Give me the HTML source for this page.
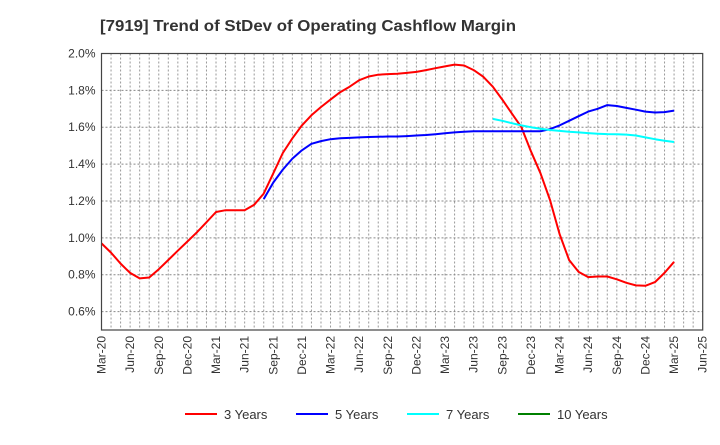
<!DOCTYPE html>
<html><head><meta charset="utf-8"><style>
body{margin:0;background:#fff;font-family:"Liberation Sans",sans-serif}
svg text{font-family:"Liberation Sans",sans-serif}
</style></head><body>
<svg id="c" width="720" height="440" xmlns="http://www.w3.org/2000/svg">
<text x="100" y="31" font-size="16" font-weight="bold" fill="#333" textLength="416" lengthAdjust="spacingAndGlyphs">[7919]  Trend of StDev of Operating Cashflow Margin</text>
<g id="grid"></g><g id="series"></g><g id="axes"></g><g id="legend"></g>
</svg>
<script>
const xLabels=["Mar-20","Jun-20","Sep-20","Dec-20","Mar-21","Jun-21","Sep-21","Dec-21","Mar-22","Jun-22","Sep-22","Dec-22","Mar-23","Jun-23","Sep-23","Dec-23","Mar-24","Jun-24","Sep-24","Dec-24","Mar-25","Jun-25"];
const yTicks=[0.6,0.8,1.0,1.2,1.4,1.6,1.8,2.0];
const red=[0.97,0.92,0.86,0.81,0.78,0.785,0.83,0.88,0.93,0.98,1.03,1.085,1.14,1.15,1.15,1.15,1.18,1.24,1.35,1.46,1.54,1.61,1.665,1.71,1.75,1.79,1.82,1.855,1.875,1.885,1.888,1.89,1.895,1.90,1.91,1.92,1.93,1.94,1.935,1.91,1.874,1.82,1.75,1.675,1.60,1.47,1.35,1.205,1.02,0.88,0.815,0.787,0.79,0.79,0.775,0.756,0.742,0.74,0.76,0.81,0.87];
const redStart=0;
const blue=[1.21,1.30,1.37,1.43,1.475,1.51,1.525,1.535,1.54,1.542,1.545,1.547,1.548,1.55,1.55,1.552,1.555,1.558,1.562,1.567,1.572,1.575,1.578,1.578,1.578,1.578,1.578,1.578,1.578,1.578,1.59,1.61,1.635,1.66,1.685,1.70,1.72,1.715,1.705,1.695,1.685,1.68,1.682,1.69];
const blueStart=17;
const cyan=[1.645,1.635,1.622,1.61,1.60,1.592,1.585,1.58,1.575,1.572,1.568,1.565,1.563,1.562,1.56,1.555,1.545,1.535,1.527,1.52];
const cyanStart=41;
const green=[];
const L=101.5,R=702.7,T=53.5,B=330,vMin=0.5,vMax=2.0,months=63;
const NS="http://www.w3.org/2000/svg";
function X(i){return L+(R-L)*i/months}
function Y(v){return B-(B-T)*(v-vMin)/(vMax-vMin)}
function mk(tag,attrs,parent){const e=document.createElementNS(NS,tag);for(const k in attrs)e.setAttribute(k,attrs[k]);parent.appendChild(e);return e}
const grid=document.getElementById('grid'),axes=document.getElementById('axes'),ser=document.getElementById('series'),leg=document.getElementById('legend');
for(let m=1;m<months;m++){const l=mk('line',{x1:X(m),x2:X(m),y1:T,y2:B,stroke:'#999','stroke-dasharray':'2,2','stroke-width':1},grid);

}
yTicks.forEach(v=>{const l=mk('line',{x1:L,x2:R,y1:Y(v),y2:Y(v),stroke:'#888','stroke-dasharray':'2,2','stroke-width':1},grid);


const t=mk('text',{x:L-6,y:Y(v)+4,'text-anchor':'end','font-size':12,fill:'#333'},axes);t.textContent=v.toFixed(1)+'%';

});
const frame=mk('rect',{x:L,y:T,width:R-L,height:B-T,fill:'none',stroke:'#444','stroke-width':1.2},axes);


xLabels.forEach((s,k)=>{const x=X(k*3);const t=mk('text',{x:0,y:0,'text-anchor':'end','font-size':12,fill:'#333',transform:`translate(${x+4},${B+6}) rotate(-90)`},axes);t.textContent=s;

});
function line(arr,start,color,name){if(!arr.length)return;const p=arr.map((v,j)=>X(start+j).toFixed(1)+','+Y(v).toFixed(1)).join(' ');
const e=mk('polyline',{points:p,fill:'none',stroke:color,'stroke-width':2,'stroke-linejoin':'round'},ser);

}
line(red,redStart,'#ff0000','series-3-years');
line(blue,blueStart,'#0000ff','series-5-years');
line(cyan,cyanStart,'#00ffff','series-7-years');
line(green,0,'#008000','series-10-years');
const items=[["3 Years","#ff0000",185],["5 Years","#0000ff",296],["7 Years","#00ffff",407],["10 Years","#008000",518]];
items.forEach(([s,c,x])=>{const g=mk('g',{},leg);


mk('line',{x1:x,x2:x+32,y1:414,y2:414,stroke:c,'stroke-width':2},g);
const t=mk('text',{x:x+39,y:419,'font-size':13,fill:'#333'},g);t.textContent=s;});
</script>
</body></html>
